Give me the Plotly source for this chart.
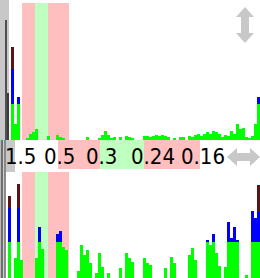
import plotly.graph_objects as go
import numpy as np

W, H = 260, 278
BIN0, BINW = 8, 3  # spectrum bins: start pixel and width (axis units = px)

# ---- data (bar heights, same units in both panels) ----
top_green = [0, 36, 16, 36, 0, 0, 2, 6, 8, 11, 0, 0, 0, 4, 0, 0, 5, 3, 2, 0,
             0, 0, 0, 0, 0, 0, 3, 0, 0, 0, 2, 5, 9, 5, 2, 3, 0, 3, 0, 4,
             3, 2, 0, 0, 0, 4, 4, 3, 4, 5, 4, 5, 4, 3, 0, 2, 0, 3, 3, 0,
             4, 3, 5, 6, 4, 6, 8, 6, 9, 8, 6, 3, 5, 4, 9, 6, 16, 11, 12, 3,
             2, 4, 16, 36]
top_blue_bins = [1, 3, 83]
top_blue = [35, 7, 7]
top_red_bins = [1]
top_red = [22]

bot_green = [36, 0, 20, 36, 18, 0, 0, 0, 0, 20, 36, 29, 0, 0, 0, 0, 36, 36, 31, 28,
             0, 0, 0, 7, 33, 23, 28, 15, 0, 5, 25, 11, 0, 5, 0, 0, 0, 10, 0, 25,
             20, 16, 0, 0, 0, 20, 15, 13, 0, 0, 0, 0, 10, 0, 21, 15, 0, 0, 0, 0,
             23, 30, 18, 0, 0, 0, 36, 33, 36, 25, 12, 0, 11, 36, 36, 36, 36, 0, 0, 3,
             0, 36, 36, 36]
bot_blue_bins = [0, 3, 10, 16, 17, 66, 68, 73, 74, 75, 76, 81, 82, 83]
bot_blue = [34, 34, 15, 8, 11, 2, 8, 20, 4, 15, 2, 31, 24, 30]
bot_red_bins = [0, 3, 83]
bot_red = [12, 24, 27]

ref_heights = [120, 47]          # dark reference bars in grey strip
labels = ["1.5", "0.5", "0.3", "0.24", "0.16"]

# ---- layout helpers ----
label_x = [20, 59, 101, 153, 203]
n = len(top_green)
centers = BIN0 + BINW * (np.arange(n) + 0.5)


def sparse(bins, vals):
    a = np.zeros(n)
    a[bins] = vals
    return a


GREEN, BLUE, RED = "#00ff00", "#0000ff", "#5a1414"
PINK, LGREEN, GREY = "#ffbfbf", "#bfffbf", "#c8c8c8"

fig = go.Figure()
for axis, g, b, r in [("", top_green, sparse(top_blue_bins, top_blue), sparse(top_red_bins, top_red)),
                      ("2", bot_green, sparse(bot_blue_bins, bot_blue), sparse(bot_red_bins, bot_red))]:
    for vals, col in [(g, GREEN), (b, BLUE), (r, RED)]:
        fig.add_trace(go.Bar(x=centers, y=vals, width=BINW * 0.8,
                             marker=dict(color=col, line=dict(width=0)),
                             xaxis="x" + axis, yaxis="y" + axis, showlegend=False, hoverinfo="skip"))

fig.add_trace(go.Bar(x=[6, 8], y=ref_heights, width=2,
                     marker=dict(color=["#505050", "#3c3c3c"], line=dict(width=0)),
                     xaxis="x", yaxis="y", showlegend=False, hoverinfo="skip"))


def px(x):
    return x / W


def py(y):
    return 1 - y / H


shapes = []


def rect(x0, x1, y0, y1, col, layer="below"):
    shapes.append(dict(type="rect", xref="paper", yref="paper", x0=px(x0), x1=px(x1),
                       y0=py(y1), y1=py(y0), fillcolor=col, line=dict(width=0), layer=layer))


# top panel background bands
rect(0, 9, 0, 140, GREY)
for (a, b_, c) in [(22, 35, PINK), (35, 48, LGREEN), (48, 69, PINK)]:
    rect(a, b_, 3, 140, c)
    rect(a, b_, 172, 278, c)
# label row
rect(0, 15, 140, 172, GREY, "above")
for (a, b_, c) in [(58, 100, PINK), (100, 144, LGREEN), (144, 200, PINK)]:
    rect(a, b_, 140, 169, c, "above")
# left border stripes
for (a, b_, c) in [(0, 1, "#bbbbbb"), (1, 3, "#6e6e6e"), (3, 4, "#cfcfcf"), (4, 6, "#8a8a8a")]:
    rect(a, b_, 140, 278, c, "above")


def path(pts, col):
    d = "M " + " L ".join(f"{px(x):.5f},{py(y):.5f}" for x, y in pts) + " Z"
    shapes.append(dict(type="path", xref="paper", yref="paper", path=d,
                       fillcolor=col, line=dict(width=0), layer="above"))


path([(245, 7), (254, 17), (249, 17), (249, 33), (254, 33), (245, 43), (236, 33), (241, 33),
      (241, 17), (236, 17)], GREY)
path([(227, 157), (237, 148), (237, 153), (250, 153), (250, 148), (260, 157), (250, 166),
      (250, 161), (237, 161), (237, 166)], GREY)

annotations = [dict(text=t, x=px(xc), y=py(156), xref="paper", yref="paper", showarrow=False,
                    xanchor="center", yanchor="middle",
                    font=dict(family="DejaVu Sans Condensed, Liberation Sans Narrow, Liberation Sans",
                              size=22, color="black", weight=300))
               for t, xc in zip(labels, label_x)]

ax = dict(range=[0, W], showgrid=False, zeroline=False, showticklabels=False, ticks="", showline=False)
fig.update_layout(
    width=W, height=H, margin=dict(l=0, r=0, t=0, b=0),
    paper_bgcolor="white", plot_bgcolor="rgba(0,0,0,0)",
    barmode="stack", bargap=0,
    xaxis=dict(ax, domain=[0, 1], anchor="y"),
    xaxis2=dict(ax, domain=[0, 1], anchor="y2"),
    yaxis=dict(range=[0, 140], domain=[py(140), 1], showgrid=False, zeroline=False,
               showticklabels=False, anchor="x"),
    yaxis2=dict(range=[0, 106], domain=[0, py(172)], showgrid=False, zeroline=False,
                showticklabels=False, anchor="x2"),
    shapes=shapes, annotations=annotations,
)
fig.write_html("out.html", config={"displayModeBar": False},
               post_script="document.body.style.margin='0px';document.body.style.overflow='hidden';")
